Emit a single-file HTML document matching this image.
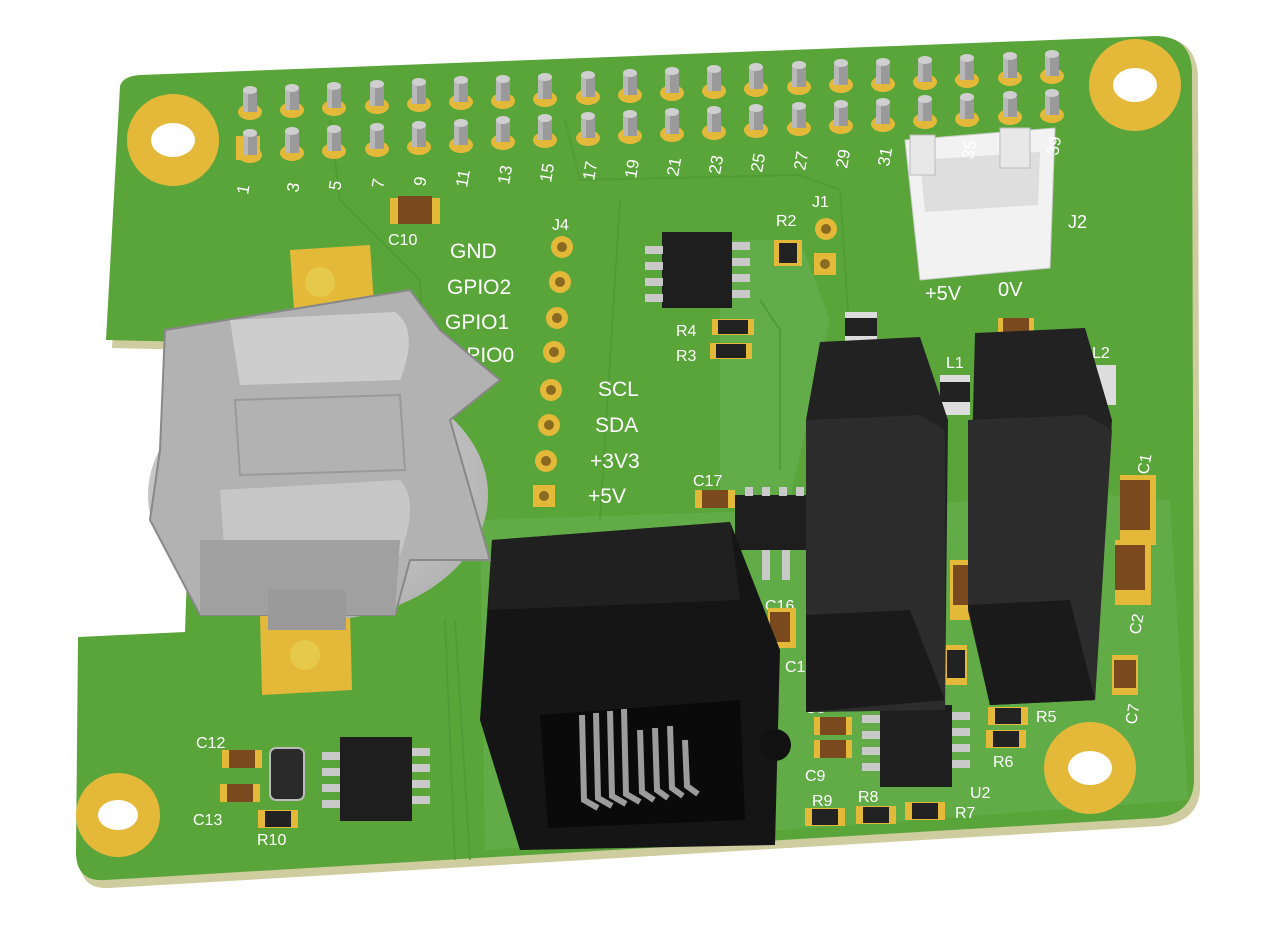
<!DOCTYPE html>
<html><head><meta charset="utf-8"><style>
html,body{margin:0;padding:0;background:#fff;}
svg{display:block}
text{font-family:"Liberation Sans",sans-serif;fill:#fff}
</style></head><body>
<svg width="1282" height="938" viewBox="0 0 1282 938" xmlns="http://www.w3.org/2000/svg">
<defs>
<radialGradient id="cell" cx="0.4" cy="0.4" r="0.7"><stop offset="0" stop-color="#e0e0e0"/><stop offset="1" stop-color="#b0b0b0"/></radialGradient>
<g id="pin">
<ellipse cx="0" cy="8" rx="12" ry="8" fill="#e4b93a"/>
<rect x="-7" y="-14" width="14" height="22" fill="#9a9a9a"/>
<rect x="-7" y="-14" width="5" height="22" fill="#b8b8b8"/>
<ellipse cx="0" cy="-14" rx="7" ry="4" fill="#cfcfcf"/>
</g>
</defs>
<!-- board edge (thickness) -->
<path d="M125,92 Q128,82 145,80 L1160,38 Q1195,38 1198,75 L1200,790 Q1198,822 1160,826 L110,888 Q80,890 80,860 L82,645 L190,640 L200,350 L112,348 Z" fill="#cfcca0"/>
<!-- board -->
<path d="M120,86 Q123,76 140,75 L1155,36 Q1190,36 1192,70 L1194,782 Q1192,815 1155,818 L105,880 Q76,882 76,852 L78,637 L185,632 L195,342 L106,340 Z" fill="#5aa53a"/>
<path d="M480,520 L790,510 L1110,495 L1170,500 L1188,800 L780,830 L485,850 Z" fill="#66b050" opacity="0.6"/>
<path d="M720,240 L800,240 L830,320 L790,500 L720,500 Z" fill="#6ab457" opacity="0.5"/>
<g stroke="#4f9a33" stroke-width="2" fill="none" opacity="0.8">
<path d="M565,120 L580,180 L800,175 L840,190 L850,340"/>
<path d="M330,120 L340,200 L420,280 L430,560"/>
<path d="M760,300 L780,330 L780,470"/>
<path d="M600,520 L620,200"/>
<path d="M455,620 L470,860"/>
<path d="M445,620 L455,860"/>
</g>
<!-- mounting holes -->
<circle cx="173" cy="140" r="46" fill="#e4b93a"/><ellipse cx="173" cy="140" rx="22" ry="17" fill="#fff"/>
<circle cx="1135" cy="85" r="46" fill="#e4b93a"/><ellipse cx="1135" cy="85" rx="22" ry="17" fill="#fff"/>
<circle cx="1090" cy="768" r="46" fill="#e4b93a"/><ellipse cx="1090" cy="768" rx="22" ry="17" fill="#fff"/>
<circle cx="118" cy="815" r="42" fill="#e4b93a"/><ellipse cx="118" cy="815" rx="20" ry="15" fill="#fff"/>
<!-- header pins -->
<rect x="236" y="136" width="24" height="24" fill="#e4b93a"/>
<use href="#pin" x="250" y="104"/><use href="#pin" x="250" y="147"/>
<use href="#pin" x="292" y="102"/><use href="#pin" x="292" y="145"/>
<use href="#pin" x="334" y="100"/><use href="#pin" x="334" y="143"/>
<use href="#pin" x="377" y="98"/><use href="#pin" x="377" y="141"/>
<use href="#pin" x="419" y="96"/><use href="#pin" x="419" y="139"/>
<use href="#pin" x="461" y="94"/><use href="#pin" x="461" y="137"/>
<use href="#pin" x="503" y="93"/><use href="#pin" x="503" y="134"/>
<use href="#pin" x="545" y="91"/><use href="#pin" x="545" y="132"/>
<use href="#pin" x="588" y="89"/><use href="#pin" x="588" y="130"/>
<use href="#pin" x="630" y="87"/><use href="#pin" x="630" y="128"/>
<use href="#pin" x="672" y="85"/><use href="#pin" x="672" y="126"/>
<use href="#pin" x="714" y="83"/><use href="#pin" x="714" y="124"/>
<use href="#pin" x="756" y="81"/><use href="#pin" x="756" y="122"/>
<use href="#pin" x="799" y="79"/><use href="#pin" x="799" y="120"/>
<use href="#pin" x="841" y="77"/><use href="#pin" x="841" y="118"/>
<use href="#pin" x="883" y="76"/><use href="#pin" x="883" y="116"/>
<use href="#pin" x="925" y="74"/><use href="#pin" x="925" y="113"/>
<use href="#pin" x="967" y="72"/><use href="#pin" x="967" y="111"/>
<use href="#pin" x="1010" y="70"/><use href="#pin" x="1010" y="109"/>
<use href="#pin" x="1052" y="68"/><use href="#pin" x="1052" y="107"/>
<g font-size="17">
<text transform="translate(248,195) rotate(-80)">1</text>
<text transform="translate(298,193) rotate(-80)">3</text>
<text transform="translate(340,191) rotate(-80)">5</text>
<text transform="translate(383,189) rotate(-80)">7</text>
<text transform="translate(425,187) rotate(-80)">9</text>
<text transform="translate(467,188) rotate(-80)">11</text>
<text transform="translate(509,185) rotate(-80)">13</text>
<text transform="translate(551,183) rotate(-80)">15</text>
<text transform="translate(594,181) rotate(-80)">17</text>
<text transform="translate(636,179) rotate(-80)">19</text>
<text transform="translate(678,177) rotate(-80)">21</text>
<text transform="translate(720,175) rotate(-80)">23</text>
<text transform="translate(762,173) rotate(-80)">25</text>
<text transform="translate(805,171) rotate(-80)">27</text>
<text transform="translate(847,169) rotate(-80)">29</text>
<text transform="translate(889,167) rotate(-80)">31</text>
</g>
<!-- J2 white connector -->
<path d="M905,140 L1055,128 L1050,268 L920,280 Z" fill="#f2f2f2" stroke="#ccc"/>
<path d="M920,160 L1040,152 L1038,205 L925,212 Z" fill="#dedede"/>
<rect x="1000" y="128" width="30" height="40" fill="#e8e8e8" stroke="#bbb"/>
<rect x="910" y="135" width="25" height="40" fill="#e8e8e8" stroke="#bbb"/>
<g font-size="17"><text transform="translate(973,160) rotate(-80)">35</text>
<text transform="translate(1058,156) rotate(-80)">39</text></g>
<text x="1068" y="228" font-size="18">J2</text>
<text x="925" y="300" font-size="20">+5V</text>
<text x="998" y="296" font-size="20">0V</text>
<!-- J4 pads & labels -->
<g fill="#e4b93a">
<circle cx="562" cy="247" r="11"/><circle cx="560" cy="282" r="11"/><circle cx="557" cy="318" r="11"/><circle cx="554" cy="352" r="11"/>
<circle cx="551" cy="390" r="11"/><circle cx="549" cy="425" r="11"/><circle cx="546" cy="461" r="11"/><rect x="533" y="485" width="22" height="22"/>
<circle cx="826" cy="229" r="11"/><rect x="814" y="253" width="22" height="22"/>
</g>
<g fill="#8a6a20"><circle cx="562" cy="247" r="5"/><circle cx="560" cy="282" r="5"/><circle cx="557" cy="318" r="5"/><circle cx="554" cy="352" r="5"/><circle cx="551" cy="390" r="5"/><circle cx="549" cy="425" r="5"/><circle cx="546" cy="461" r="5"/><circle cx="544" cy="496" r="5"/><circle cx="826" cy="229" r="5"/><circle cx="825" cy="264" r="5"/></g>
<g font-size="21">
<text x="450" y="258">GND</text><text x="447" y="294">GPIO2</text><text x="445" y="329">GPIO1</text><text x="450" y="362">GPIO0</text>
<text x="598" y="396">SCL</text><text x="595" y="432">SDA</text><text x="590" y="468">+3V3</text><text x="588" y="503">+5V</text>
</g>
<g font-size="16"><text x="552" y="230">J4</text><text x="812" y="207">J1</text><text x="776" y="226">R2</text>
<text x="676" y="336">R4</text><text x="676" y="361">R3</text><text x="388" y="245">C10</text>
<text x="693" y="486">C17</text><text x="805" y="713">C8</text><text x="805" y="781">C9</text><text x="812" y="806">R9</text><text x="858" y="802">R8</text><text x="955" y="818">R7</text>
<text x="970" y="798">U2</text><text x="1036" y="722">R5</text><text x="993" y="767">R6</text><text x="196" y="748">C12</text><text x="193" y="825">C13</text><text x="257" y="845">R10</text><text x="283" y="766">Y1</text>
<text x="785" y="672">C18</text><text x="765" y="611">C16</text><text x="946" y="368">L1</text><text x="1092" y="358">L2</text>
<text transform="translate(1148,475) rotate(-80)">C1</text><text transform="translate(1140,635) rotate(-80)">C2</text><text transform="translate(1136,725) rotate(-80)">C7</text></g>
<!-- U1 -->
<rect x="662" y="232" width="70" height="76" fill="#1e1e1e"/>
<g fill="#c9c9c9"><rect x="645" y="246" width="18" height="8"/><rect x="645" y="262" width="18" height="8"/><rect x="645" y="278" width="18" height="8"/><rect x="645" y="294" width="18" height="8"/>
<rect x="732" y="242" width="18" height="8"/><rect x="732" y="258" width="18" height="8"/><rect x="732" y="274" width="18" height="8"/><rect x="732" y="290" width="18" height="8"/></g>
<!-- passives -->
<g><rect x="712" y="319" width="42" height="16" fill="#e4b93a"/><rect x="718" y="320" width="30" height="14" fill="#222"/>
<rect x="710" y="343" width="42" height="16" fill="#e4b93a"/><rect x="716" y="344" width="30" height="14" fill="#222"/>
<rect x="774" y="240" width="28" height="26" fill="#e4b93a"/><rect x="779" y="243" width="18" height="20" fill="#222"/>
<rect x="390" y="198" width="50" height="26" fill="#e4b93a"/><rect x="398" y="196" width="34" height="28" fill="#7a4a1e"/>
<rect x="695" y="490" width="40" height="18" fill="#e4b93a"/><rect x="702" y="490" width="26" height="18" fill="#7a4a1e"/>
<rect x="814" y="717" width="38" height="18" fill="#e4b93a"/><rect x="820" y="717" width="26" height="18" fill="#7a4a1e"/>
<rect x="814" y="740" width="38" height="18" fill="#e4b93a"/><rect x="820" y="740" width="26" height="18" fill="#7a4a1e"/>
<rect x="805" y="808" width="40" height="18" fill="#e4b93a"/><rect x="812" y="809" width="26" height="16" fill="#222"/>
<rect x="856" y="806" width="40" height="18" fill="#e4b93a"/><rect x="863" y="807" width="26" height="16" fill="#222"/>
<rect x="905" y="802" width="40" height="18" fill="#e4b93a"/><rect x="912" y="803" width="26" height="16" fill="#222"/>
<rect x="988" y="707" width="40" height="18" fill="#e4b93a"/><rect x="995" y="708" width="26" height="16" fill="#222"/>
<rect x="986" y="730" width="40" height="18" fill="#e4b93a"/><rect x="993" y="731" width="26" height="16" fill="#222"/>
<rect x="222" y="750" width="40" height="18" fill="#e4b93a"/><rect x="229" y="750" width="26" height="18" fill="#7a4a1e"/>
<rect x="220" y="784" width="40" height="18" fill="#e4b93a"/><rect x="227" y="784" width="26" height="18" fill="#7a4a1e"/>
<rect x="258" y="810" width="40" height="18" fill="#e4b93a"/><rect x="265" y="811" width="26" height="16" fill="#222"/>
<rect x="1120" y="475" width="36" height="70" fill="#e4b93a"/><rect x="1120" y="480" width="30" height="50" fill="#7a4a1e"/>
<rect x="1115" y="540" width="36" height="65" fill="#e4b93a"/><rect x="1115" y="545" width="30" height="45" fill="#7a4a1e"/>
<rect x="1112" y="655" width="26" height="40" fill="#e4b93a"/><rect x="1114" y="660" width="22" height="28" fill="#7a4a1e"/>
<rect x="945" y="645" width="22" height="40" fill="#e4b93a"/><rect x="947" y="650" width="18" height="28" fill="#222"/>
<rect x="845" y="312" width="32" height="30" fill="#ddd"/><rect x="845" y="318" width="32" height="18" fill="#222"/>
<rect x="998" y="318" width="36" height="22" fill="#e4b93a"/><rect x="1003" y="318" width="26" height="22" fill="#7a4a1e"/>
<rect x="940" y="375" width="30" height="40" fill="#ddd"/><rect x="940" y="382" width="30" height="20" fill="#222"/>
<rect x="1090" y="365" width="26" height="40" fill="#ddd"/>
<rect x="950" y="560" width="30" height="60" fill="#e4b93a"/><rect x="953" y="565" width="24" height="40" fill="#7a4a1e"/>
<rect x="768" y="608" width="28" height="40" fill="#e4b93a"/><rect x="770" y="612" width="20" height="30" fill="#7a4a1e"/>
</g>
<rect x="735" y="495" width="100" height="55" fill="#1e1e1e"/>
<g fill="#c9c9c9"><rect x="745" y="487" width="8" height="9"/><rect x="762" y="487" width="8" height="9"/><rect x="779" y="487" width="8" height="9"/><rect x="796" y="487" width="8" height="9"/>
<rect x="762" y="550" width="8" height="30"/><rect x="782" y="550" width="8" height="30"/></g>
<!-- U3 -->
<rect x="340" y="737" width="72" height="84" fill="#1e1e1e"/>
<g fill="#c9c9c9"><rect x="322" y="752" width="18" height="8"/><rect x="322" y="768" width="18" height="8"/><rect x="322" y="784" width="18" height="8"/><rect x="322" y="800" width="18" height="8"/>
<rect x="412" y="748" width="18" height="8"/><rect x="412" y="764" width="18" height="8"/><rect x="412" y="780" width="18" height="8"/><rect x="412" y="796" width="18" height="8"/></g>
<rect x="270" y="748" width="34" height="52" rx="6" fill="#2a2a2a" stroke="#bbb" stroke-width="2"/>
<!-- U2 -->
<rect x="880" y="705" width="72" height="82" fill="#1e1e1e"/>
<g fill="#c9c9c9"><rect x="862" y="715" width="18" height="8"/><rect x="862" y="731" width="18" height="8"/><rect x="862" y="747" width="18" height="8"/><rect x="862" y="763" width="18" height="8"/>
<rect x="952" y="712" width="18" height="8"/><rect x="952" y="728" width="18" height="8"/><rect x="952" y="744" width="18" height="8"/><rect x="952" y="760" width="18" height="8"/></g>
<!-- relays / inductors -->
<path d="M820,342 L920,337 L948,420 L945,710 L806,712 L806,420 Z" fill="#222"/>
<path d="M806,420 L920,415 L945,430 L945,710 L806,712 Z" fill="#2c2c2c"/>
<path d="M975,333 L1085,328 L1112,420 L1095,700 L990,705 L968,610 Z" fill="#222"/>
<path d="M968,420 L1085,415 L1112,430 L1095,700 L990,705 L968,610 Z" fill="#2c2c2c"/>
<path d="M806,615 L910,610 L945,700 L806,712 Z" fill="#1a1a1a"/>
<path d="M968,605 L1070,600 L1095,700 L990,705 Z" fill="#1a1a1a"/>
<!-- RJ connector -->
<path d="M492,540 L730,522 L780,650 L775,845 L520,850 L480,720 Z" fill="#151515"/>
<path d="M492,540 L730,522 L740,600 L488,610 Z" fill="#202020"/>
<path d="M540,715 L740,700 L745,820 L548,828 Z" fill="#0a0a0a"/>
<circle cx="775" cy="745" r="16" fill="#111"/>
<g stroke="#9c9c9c" stroke-width="6" fill="none">
<path d="M582,715 L584,800 L598,808"/><path d="M596,713 L598,798 L612,806"/><path d="M610,711 L612,796 L626,804"/><path d="M624,709 L626,794 L640,802"/>
<path d="M640,730 L642,792 L654,800"/><path d="M655,728 L657,790 L668,798"/><path d="M670,726 L672,788 L683,796"/><path d="M685,740 L687,786 L698,794"/>
</g>
<!-- battery holder -->
<path d="M290,250 L370,245 L375,320 L295,325 Z" fill="#e4b93a"/>
<path d="M260,615 L350,612 L352,690 L262,695 Z" fill="#e4b93a"/>
<circle cx="320" cy="282" r="15" fill="#e6c94a"/><circle cx="305" cy="655" r="15" fill="#e6c94a"/>
<ellipse cx="318" cy="495" rx="170" ry="125" fill="url(#cell)"/>
<path d="M165,330 L410,290 L440,330 L500,380 L450,420 L490,560 L410,560 L395,615 L200,615 L150,520 L160,450 Z" fill="#b2b2b2" stroke="#888" stroke-width="2"/>
<path d="M230,320 L395,312 Q420,330 400,380 L240,385 Z" fill="#cdcdcd"/>
<path d="M220,490 L400,480 Q420,500 400,555 L225,560 Z" fill="#c6c6c6"/>
<path d="M200,540 L400,540 L395,615 L200,615 Z" fill="#a0a0a0"/>
<path d="M235,400 L400,395 L405,470 L240,475 Z" fill="none" stroke="#9a9a9a" stroke-width="2"/>
<rect x="268" y="590" width="78" height="40" fill="#9a9a9a"/>
</svg>
</body></html>
